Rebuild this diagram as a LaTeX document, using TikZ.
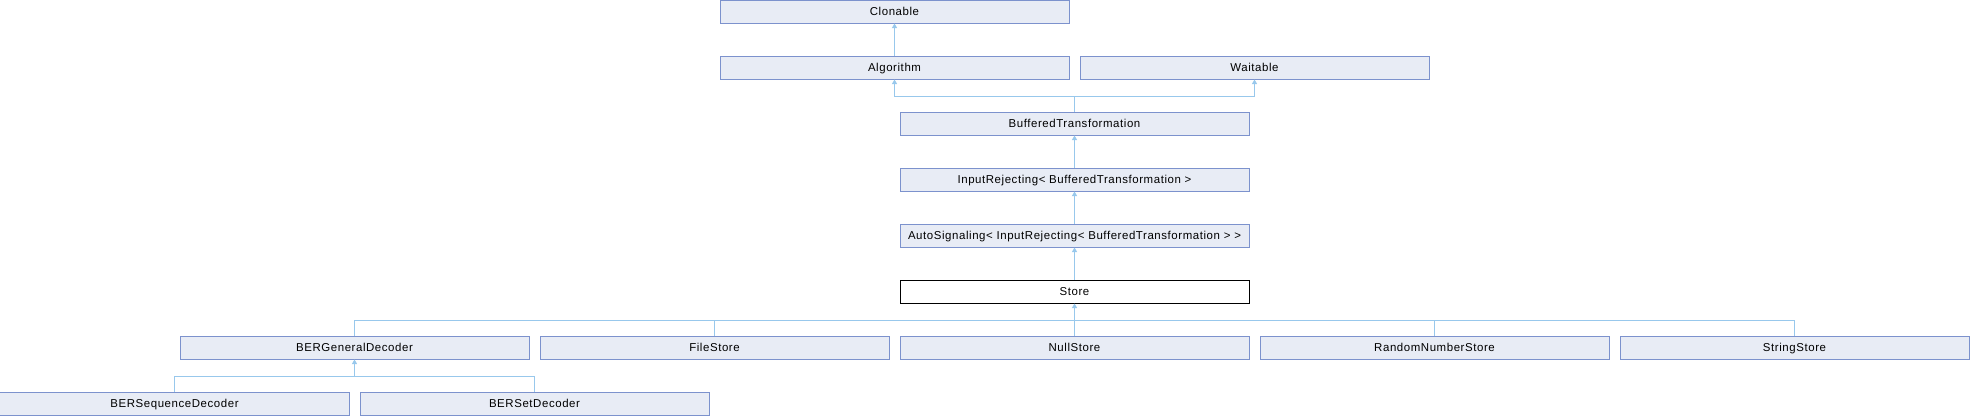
\documentclass[tikz,border=0pt]{standalone}
\usepackage{fontspec}
\setmainfont{Liberation Sans}
\newfontfamily\clsfont[LetterSpace=5]{Liberation Sans}
\usepackage{tikz}
\usetikzlibrary{arrows.meta}
\definecolor{boxfill}{RGB}{232,236,245}
\definecolor{boxline}{RGB}{124,146,205}
\definecolor{linkblue}{RGB}{152,200,236}
\begin{document}
\begin{tikzpicture}[x=1bp,y=1bp,
	cls/.style={draw=boxline,fill=boxfill,line width=1bp,minimum width=349bp,minimum height=23bp,inner sep=0pt,text height=8.2bp,text depth=0.6bp,font=\clsfont\fontsize{11.5}{13}\selectfont},
	cur/.style={cls,draw=black,fill=white},
	link/.style={draw=linkblue,line width=1bp},
	inherit/.style={link,-{Triangle[width=5bp,length=4.5bp]}}]
	\useasboundingbox (0,0) rectangle (1970,-416);
	\node[cls] (clon) at (894.5,-11.5) {Clonable};
	\node[cls] (algo) at (894.5,-67.5) {Algorithm};
	\node[cls] (wait) at (1254.5,-67.5) {Waitable};
	\node[cls] (buft) at (1074.5,-123.5) {BufferedTransformation};
	\node[cls] (inrej) at (1074.5,-179.5) {InputRejecting< BufferedTransformation >};
	\node[cls] (autosig) at (1074.5,-235.5) {AutoSignaling< InputRejecting< BufferedTransformation > >};
	\node[cur] (store) at (1074.5,-291.5) {Store};
	\node[cls] (bergen) at (354.5,-347.5) {BERGeneralDecoder};
	\node[cls] (file) at (714.5,-347.5) {FileStore};
	\node[cls] (null) at (1074.5,-347.5) {NullStore};
	\node[cls] (rng) at (1434.5,-347.5) {RandomNumberStore};
	\node[cls] (str) at (1794.5,-347.5) {StringStore};
	\node[cls] (berseq) at (174.5,-403.5) {BERSequenceDecoder};
	\node[cls] (berset) at (534.5,-403.5) {BERSetDecoder};
	\coordinate (busA) at (1074.5,-96);
	\coordinate (busS) at (1074.5,-320);
	\coordinate (busB) at (354.5,-376);
	\draw[inherit] (algo.north) -- (clon.south);
	\draw[link] (buft.north) -- (busA);
	\draw[inherit] (busA) -| (algo.south);
	\draw[inherit] (busA) -| (wait.south);
	\draw[inherit] (inrej.north) -- (buft.south);
	\draw[inherit] (autosig.north) -- (inrej.south);
	\draw[inherit] (store.north) -- (autosig.south);
	\foreach \c in {bergen,file,null,rng,str}
		\draw[link] (busS) -| (\c.north);
	\draw[inherit] (busS) -- (store.south);
	\foreach \c in {berseq,berset}
		\draw[link] (busB) -| (\c.north);
	\draw[inherit] (busB) -- (bergen.south);
\end{tikzpicture}
\end{document}
